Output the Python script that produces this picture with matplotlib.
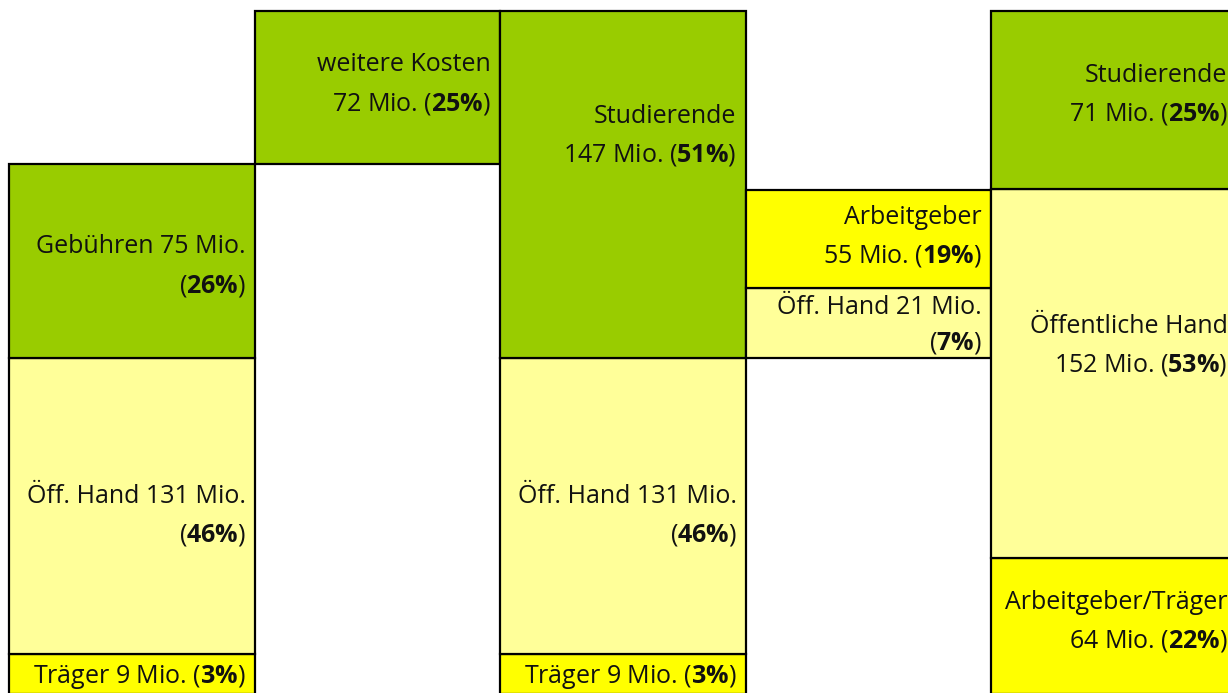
"""
Finanzierung: gestapelte Blöcke (Wasserfall-artig) mit Beschriftungen.
"""
import matplotlib
matplotlib.use("Agg")
import matplotlib.pyplot as plt

# --- Daten -------------------------------------------------------------
# Spalte 1: Einnahmen, Spalte 2: weitere Kosten, Spalte 3: Gesamt,
# Spalte 4: Umverteilung, Spalte 5: Ergebnis
col_index = [0, 0, 0, 1, 2, 2, 2, 3, 3, 4, 4, 4]

# gezeichnete Blockhöhen (aus dem Bild abgelesen, nicht ganz maßstäblich)
drawn_heights = [16.8, 124.4, 81.4, 64.4, 16.8, 124.4, 145.8, 29.5, 41.2, 57.4, 154.7, 74.9]

# Sockel der Spalten: Spalte 2 beginnt auf Spalte 1, Spalte 4 auf Träger+Öff. Hand
col_base_from = {1: (0, 3), 3: (4, 6)}   # Summe der Segmente [a:b] als Sockel

label_lines = [
    ["Träger 9 Mio. (", "3%", ")"],
    ["Öff. Hand 131 Mio.\n(", "46%", ")"],
    ["Gebühren 75 Mio.\n(", "26%", ")"],
    ["weitere Kosten\n72 Mio. (", "25%", ")"],
    ["Träger 9 Mio. (", "3%", ")"],
    ["Öff. Hand 131 Mio.\n(", "46%", ")"],
    ["Studierende\n147 Mio. (", "51%", ")"],
    ["Öff. Hand 21 Mio.\n(", "7%", ")"],
    ["Arbeitgeber\n55 Mio. (", "19%", ")"],
    ["Arbeitgeber/Träger\n64 Mio. (", "22%", ")"],
    ["Öffentliche Hand\n152 Mio. (", "53%", ")"],
    ["Studierende\n71 Mio. (", "25%", ")"],
]

seg_color = ["yellow", "light", "green", "green", "yellow", "light", "green",
             "light", "yellow", "yellow", "light", "green"]

# --- Stil ---------------------------------------------------------------
colors = {"green": "#99CC00", "light": "#FFFF99", "yellow": "#FFFF00"}
label_frac = [0.43, 0.467, 0.473, 0.52, 0.43, 0.467, 0.64, 0.47, 0.52, 0.53, 0.575, 0.53]
label_spacing = [1.68] * 7 + [1.5] + [1.68] * 4   # im schmalen Block enger

plt.rcParams["font.family"] = ["Open Sans", "DejaVu Sans"]
plt.rcParams["mathtext.fontset"] = "custom"
plt.rcParams["mathtext.rm"] = "Open Sans"
plt.rcParams["mathtext.bf"] = "Open Sans:bold"

fig = plt.figure(figsize=(12.28, 6.93), dpi=100)
ax = fig.add_axes([0, 0, 1, 1])
ax.set_xlim(-0.537, 4.465)
ax.set_ylim(0.6, 291.6)
ax.axis("off")

# Sockel je Segment berechnen
bottoms = []
col_top = {}
for i, (c, h) in enumerate(zip(col_index, drawn_heights)):
    if c not in col_top:
        if c in col_base_from:
            a, b = col_base_from[c]
            col_top[c] = sum(drawn_heights[a:b])
        else:
            col_top[c] = 0.0
    bottoms.append(col_top[c])
    col_top[c] += h

ax.bar(col_index, drawn_heights, bottom=bottoms, width=1.0,
       color=[colors[s] for s in seg_color], edgecolor="black", linewidth=1.6,
       align="center", zorder=2)

# Beschriftungen: rechtsbündig, Prozentwert fett
for i, (c, h, b) in enumerate(zip(col_index, drawn_heights, bottoms)):
    pre, pct, post = label_lines[i]
    s = pre + r"$\mathbf{" + pct.replace("%", r"\%") + "}$" + post
    ax.text(c + 0.5 - 0.037, b + h * label_frac[i], s,
            ha="right", va="center", multialignment="right",
            fontsize=18, color="#111111", linespacing=label_spacing[i], zorder=3)

fig.savefig("out.png", dpi=100)
